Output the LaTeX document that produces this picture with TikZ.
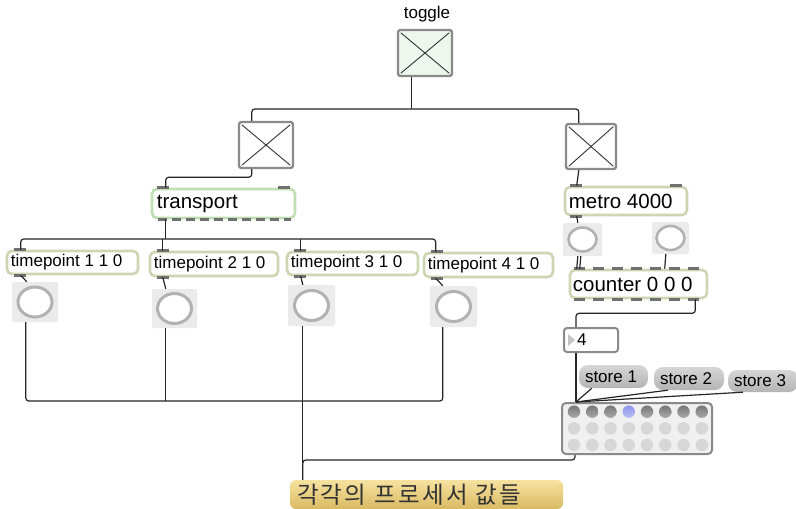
\documentclass[tikz,border=0pt]{standalone}
\usepackage{fontspec}
\setmainfont{Liberation Sans}
\newfontfamily\krfont[LetterSpace=10]{Noto Sans CJK KR}
\usetikzlibrary{calc,shapes.geometric}
\definecolor{objc}{HTML}{CDD6B2}
\definecolor{trc}{HTML}{BEDFB2}
\definecolor{grayb}{HTML}{8A8A8A}
\definecolor{xc}{HTML}{333333}
\definecolor{bgc}{HTML}{EBEBEB}
\definecolor{ringc}{HTML}{B2B2B2}
\definecolor{cordc}{HTML}{262626}
\definecolor{barc}{HTML}{707070}
\definecolor{msgt}{HTML}{D6D6D6}
\definecolor{msgb}{HTML}{B4B4B4}
\definecolor{labt}{HTML}{F6E2A0}
\definecolor{labb}{HTML}{D9BA62}
\definecolor{tglfill}{HTML}{EEF7EE}
\definecolor{mxfill}{HTML}{F0F0F0}
\definecolor{dott}{HTML}{767676}
\definecolor{dotb}{HTML}{ABABAB}
\definecolor{dotl}{HTML}{D7D7D7}
\definecolor{dotbt}{HTML}{8E96EA}
\definecolor{dotbb}{HTML}{BCC0F5}
\definecolor{tric}{HTML}{C4C4C4}
\begin{document}
\begin{tikzpicture}[x=1pt,y=-1pt,
 obj/.style={draw=objc, line width=2.6pt, rounded corners=5pt, fill=white, inner sep=0pt},
 objtr/.style={obj, draw=trc},
 otxt/.style={anchor=west, inner sep=0pt, font=\fontsize{17}{17}\selectfont},
 btxt/.style={anchor=west, inner sep=0pt, font=\fontsize{20.5}{20.5}\selectfont},
 tog/.style={draw=grayb, line width=2.4pt, rounded corners=2.5pt, fill=white, inner sep=0pt},
 xl/.style={draw=xc, line width=0.9pt},
 bangbg/.style={fill=bgc, rounded corners=2pt, inner sep=0pt},
 ring/.style={ellipse, draw=ringc, line width=3pt, fill=white, inner sep=0pt},
 wire/.style={draw=cordc, line width=1.2pt, rounded corners=3pt},
 bar/.style={fill=barc},
 dashbar/.style={draw=barc, line width=3pt},
 msg/.style={rounded corners=9pt, top color=msgt, bottom color=msgb, inner sep=0pt},
 mxdot/.style={circle, inner sep=0pt, minimum size=12.5pt}
]
\useasboundingbox (0,0) rectangle (796,509);

% ---------- toggles ----------
\node[font=\fontsize{17}{17}\selectfont, inner sep=0pt] (tgltxt) at (427,14) {toggle};
\node[tog, fill=tglfill, minimum width=54pt, minimum height=46pt] (tgl) at (425,53) {};
\node[tog, minimum width=54pt, minimum height=46pt] (tgl2) at (266,145) {};
\node[tog, minimum width=50pt, minimum height=45pt] (tgl3) at (591,146.5) {};
\foreach \t in {tgl,tgl2,tgl3}{
  \draw[xl] ($(\t.north west)+(4,4)$) -- ($(\t.south east)+(-4,-4)$);
  \draw[xl] ($(\t.north east)+(-4,4)$) -- ($(\t.south west)+(4,-4)$);
}

% ---------- transport and timepoints ----------
\node[objtr, minimum width=143pt, minimum height=29pt] (tr) at (223.5,203.5) {};
\node[btxt] (trtxt) at ($(tr.west)+(6,0)$) {transport};
\fill[bar] ($(tr.north west)+(6,-1.5)$) rectangle ++(12,3);
\fill[bar] ($(tr.north east)+(-18,-1.5)$) rectangle ++(12,3);
\draw[dashbar, dash pattern=on 9pt off 5pt] ($(tr.south west)+(7,0)$) -- ($(tr.south east)+(-5,0)$);

\node[obj, minimum width=131pt, minimum height=23pt] (tp1) at (72.5,262.5) {};
\node[obj, minimum width=128pt, minimum height=24pt] (tp2) at (214,264) {};
\node[obj, minimum width=131pt, minimum height=23pt] (tp3) at (352.5,263.5) {};
\node[obj, minimum width=129pt, minimum height=24pt] (tp4) at (488.5,265) {};
\node[otxt] (tp1t) at ($(tp1.west)+(5,0)$) {timepoint 1 1 0};
\node[otxt] (tp2t) at ($(tp2.west)+(5,0)$) {timepoint 2 1 0};
\node[otxt] (tp3t) at ($(tp3.west)+(5,0)$) {timepoint 3 1 0};
\node[otxt] (tp4t) at ($(tp4.west)+(5,0)$) {timepoint 4 1 0};
\foreach \t in {tp1,tp2,tp3,tp4}{
  \fill[bar] ($(\t.north west)+(8,-1.5)$) rectangle ++(12,3);
  \fill[bar] ($(\t.south west)+(8,-1.5)$) rectangle ++(12,3);
}

% ---------- bangs ----------
\node[bangbg, minimum width=46pt, minimum height=40pt] (b1) at (35,302) {};
\node[bangbg, minimum width=45pt, minimum height=39pt] (b2) at (174.5,308.5) {};
\node[bangbg, minimum width=47pt, minimum height=41pt] (b3) at (311.5,305.5) {};
\node[bangbg, minimum width=47pt, minimum height=41pt] (b4) at (453.5,306.5) {};
\node[ring, minimum width=34pt, minimum height=30pt] (r1) at (b1) {};
\node[ring, minimum width=34pt, minimum height=30pt] (r2) at (b2) {};
\node[ring, minimum width=34pt, minimum height=30pt] (r3) at (b3) {};
\node[ring, minimum width=34pt, minimum height=30pt] (r4) at (b4) {};

% ---------- right column ----------
\node[obj, minimum width=122pt, minimum height=28pt] (metro) at (626,201) {};
\node[btxt] (metrot) at ($(metro.west)+(5,0)$) {metro 4000};
\fill[bar] ($(metro.north west)+(6,-1.5)$) rectangle ++(12,3);
\fill[bar] ($(metro.north east)+(-18,-1.5)$) rectangle ++(12,3);
\fill[bar] ($(metro.south west)+(6,-1.5)$) rectangle ++(12,3);

\node[bangbg, minimum width=39pt, minimum height=33pt] (b5) at (582.5,239.5) {};
\node[bangbg, minimum width=37pt, minimum height=32pt] (b6) at (670.5,238) {};
\node[ring, line width=2.6pt, minimum width=28pt, minimum height=24pt] (r5) at (b5) {};
\node[ring, line width=2.6pt, minimum width=28pt, minimum height=24pt] (r6) at (b6) {};

\node[obj, minimum width=137pt, minimum height=28pt] (ct) at (638.5,284) {};
\node[btxt] (ctt) at ($(ct.west)+(4,0)$) {counter 0 0 0};
\draw[dashbar, dash pattern=on 11pt off 8pt] ($(ct.north west)+(5,0)$) -- ($(ct.north east)+(-4,0)$);
\draw[dashbar, dash pattern=on 11pt off 8pt] ($(ct.south west)+(5,0)$) -- ($(ct.south east)+(-4,0)$);

\node[draw=grayb, line width=2pt, rounded corners=3pt, fill=white, inner sep=0pt,
      minimum width=54pt, minimum height=24pt] (nb) at (591,340) {};
\fill[tric] ($(nb.west)+(5,-6)$) -- ++(0,12) -- ++(7,-6) -- cycle;
\node[otxt] (nbt) at ($(nb.west)+(14,0)$) {4};

\node[msg, minimum width=69pt, minimum height=23pt] (s1) at (613.5,376.5) {};
\node[msg, minimum width=70pt, minimum height=23pt] (s2) at (689,378.5) {};
\node[msg, minimum width=70pt, minimum height=22pt] (s3) at (763,381) {};
\node[otxt] (s1t) at ($(s1.west)+(6,0)$) {store 1};
\node[otxt] (s2t) at ($(s2.west)+(6,0)$) {store 2};
\node[otxt] (s3t) at ($(s3.west)+(6,0)$) {store 3};

\node[draw=grayb, line width=2pt, rounded corners=4pt, fill=mxfill, inner sep=0pt,
      minimum width=150pt, minimum height=51pt] (mx) at (637,428.5) {};
\foreach \i in {0,...,7}{
  \pgfmathsetmacro{\xx}{574+18.25*\i}
  \ifnum\i=3
    \node[mxdot, top color=dotbt, bottom color=dotbb] (mxa\i) at (\xx,411.7) {};
  \else
    \node[mxdot, top color=dott, bottom color=dotb] (mxa\i) at (\xx,411.7) {};
  \fi
  \node[mxdot, fill=dotl] (mxb\i) at (\xx,428.3) {};
  \node[mxdot, fill=dotl] (mxc\i) at (\xx,445) {};
}

% ---------- label ----------
\node[rounded corners=6pt, top color=labt, bottom color=labb, inner sep=0pt,
      minimum width=273pt, minimum height=29pt] (lab) at (426.5,494.5) {};
\node[anchor=west, inner sep=0pt, text=black!80, font=\krfont\fontsize{23.5}{23.5}\selectfont] (labt) at ($(lab.west)+(7,0)$) {각각의 프로세서 값들};

% ---------- connection points ----------
\coordinate (tglo) at ($(tgl.south west)+(15,0)$);
\coordinate (t2i) at ($(tgl2.north west)+(14,0)$);
\coordinate (t2o) at ($(tgl2.south west)+(14,0)$);
\coordinate (t3i) at ($(tgl3.north west)+(14,0)$);
\coordinate (t3o) at ($(tgl3.south west)+(14,0)$);
\coordinate (j1) at (tglo |- 0,109);
\coordinate (tri) at ($(tr.north west)+(15,0)$);
\coordinate (tro) at ($(tr.south west)+(15,0)$);
\coordinate (j2) at (tro |- 0,239);
\coordinate (tp1i) at ($(tp1.north west)+(15,0)$);
\coordinate (tp2i) at ($(tp2.north west)+(14,0)$);
\coordinate (tp3i) at ($(tp3.north west)+(15,0)$);
\coordinate (tp4i) at ($(tp4.north west)+(13,0)$);
\coordinate (tp1o) at ($(tp1.south west)+(15,0)$);
\coordinate (tp2o) at ($(tp2.south west)+(14,0)$);
\coordinate (tp3o) at ($(tp3.south west)+(15,0)$);
\coordinate (tp4o) at ($(tp4.south west)+(13,0)$);
\coordinate (b1i) at ($(b1.north west)+(15,0)$);
\coordinate (b2i) at ($(b2.north west)+(14,0)$);
\coordinate (b3i) at ($(b3.north west)+(15,0)$);
\coordinate (b4i) at ($(b4.north west)+(13,0)$);
\coordinate (b1o) at ($(b1.south west)+(14,0)$);
\coordinate (b2o) at ($(b2.south west)+(14,0)$);
\coordinate (b3o) at ($(b3.south west)+(15,0)$);
\coordinate (b4o) at ($(b4.south west)+(13,0)$);
\coordinate (labi) at ($(lab.north west)+(13,0)$);
\coordinate (j3) at (labi |- 0,401);
\coordinate (mi) at ($(metro.north west)+(13,0)$);
\coordinate (mo) at ($(metro.south west)+(13,0)$);
\coordinate (b5i) at ($(b5.north west)+(15,0)$);
\coordinate (b5o) at ($(b5.south west)+(15,0)$);
\coordinate (b6o) at ($(b6.south west)+(14,0)$);
\coordinate (cti) at ($(ct.north west)+(8,0)$);
\coordinate (cti3) at ($(ct.north west)+(96,0)$);
\coordinate (cto) at ($(ct.south east)+(-13,0)$);
\coordinate (nbi) at ($(nb.north west)+(13,0)$);
\coordinate (nbo) at ($(nb.south west)+(13,0)$);
\coordinate (s1o) at ($(s1.south west)+(13,0)$);
\coordinate (s2o) at ($(s2.south west)+(14,0)$);
\coordinate (s3o) at ($(s3.south west)+(15,0)$);
\coordinate (mxi) at ($(mx.north west)+(15,0)$);
\coordinate (mxo) at ($(mx.south west)+(14,0)$);

% ---------- cords ----------
\draw[wire] (tglo) -- (j1);
\draw[wire] (t2i) |- (j1) -| (t3i);
\draw[wire] (t2o) -- ++(0,8) -| (tri);
\draw[wire] (tro) -- (j2);
\draw[wire] (tp1i) |- (j2) -| (tp4i);
\draw[wire] (tp2i) -- (tp2i |- j2);
\draw[wire] (tp3i) -- (tp3i |- j2);
\draw[wire] (tp1o) -- (b1i);
\draw[wire] (tp2o) -- (b2i);
\draw[wire] (tp3o) -- (b3i);
\draw[wire] (tp4o) -- (b4i);
\draw[wire] (b1o) |- (j3);
\draw[wire] (b4o) |- (j3);
\draw[wire] (b2o) -- (b2o |- j3);
\draw[wire] (b3o) -- (labi);
\draw[wire] (mxo) -- ++(0,5) -| (labi);

\draw[wire] (t3o) -- (mi);
\draw[wire] (mo) -- (b5i);
\draw[wire] (b5o) -- (cti);
\draw[wire] ($(b5o)+(3,0)$) -- ($(cti)+(3,0)$);
\draw[wire] (b6o) -- (cti3);
\draw[wire] (cto) -- ++(0,14) -| (nbi);
\draw[wire] (nbo) -- (mxi);
\draw[wire] (s1o) -- (mxi);
\draw[wire] (s2o) -- (mxi);
\draw[wire] (s3o) -- (mxi);
\end{tikzpicture}
\end{document}
